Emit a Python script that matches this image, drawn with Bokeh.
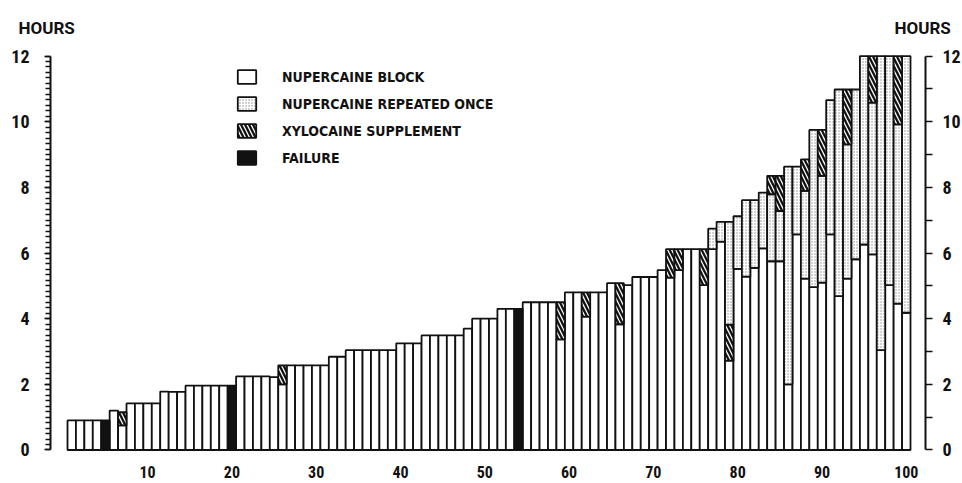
import numpy as np
from bokeh.plotting import figure
from bokeh.models import (LinearAxis, FixedTicker, Range1d, Legend, LegendItem,
                          Title, ColumnDataSource)
from bokeh.embed import file_html
from bokeh.resources import INLINE

# ---------------- data (hours per patient) ----------------
patients = list(range(1, 101))

# white part: Nupercaine block alone
nupercaine_block = [
    0.90, 0.90, 0.90, 0.90, 0.00, 1.20, 0.75, 1.42, 1.42, 1.42,
    1.42, 1.78, 1.77, 1.77, 1.96, 1.96, 1.96, 1.96, 1.96, 0.00,
    2.24, 2.24, 2.24, 2.24, 2.22, 2.00, 2.58, 2.58, 2.58, 2.58,
    2.58, 2.84, 2.84, 3.04, 3.04, 3.04, 3.04, 3.04, 3.04, 3.25,
    3.25, 3.25, 3.49, 3.49, 3.49, 3.49, 3.49, 3.70, 4.00, 4.00,
    4.00, 4.30, 4.30, 0.00, 4.50, 4.50, 4.50, 4.50, 3.37, 4.80,
    4.80, 4.06, 4.80, 4.80, 5.08, 3.83, 5.02, 5.27, 5.27, 5.27,
    5.48, 5.25, 5.48, 6.12, 6.12, 5.02, 6.12, 6.35, 2.72, 5.52,
    5.28, 5.55, 6.14, 5.75, 5.75, 2.00, 6.57, 5.22, 4.96, 5.10,
    6.57, 4.69, 5.22, 5.81, 6.26, 5.96, 3.04, 5.02, 4.46, 4.18,
]

# hatched: Xylocaine supplement given directly after the block {patient: hours}
xylocaine_after_block = {7: 0.40, 26: 0.58, 59: 1.13, 62: 0.74, 66: 1.25,
                         72: 0.87, 73: 0.64, 76: 1.10, 79: 1.10}

# dotted: Nupercaine repeated once {patient: hours}
nupercaine_repeated = {77: 0.62, 78: 0.60, 79: 3.13, 80: 1.60, 81: 2.33,
                       82: 2.06, 83: 1.70, 84: 2.04, 85: 1.53, 86: 6.63,
                       87: 2.06, 88: 2.67, 89: 4.79, 90: 3.25, 91: 4.09,
                       92: 6.29, 93: 4.09, 94: 5.17, 95: 5.74, 96: 4.62,
                       97: 8.96, 98: 6.98, 99: 5.46, 100: 7.82}

# hatched: Xylocaine supplement after the repeated Nupercaine {patient: hours}
xylocaine_after_repeat = {84: 0.56, 85: 1.07, 88: 0.96, 90: 1.40,
                          93: 1.67, 96: 1.42, 99: 2.08}

# black: failure {patient: hours}
failure = {5: 0.90, 20: 1.96, 54: 4.30}

y_ticks = [0, 2, 4, 6, 8, 10, 12]
x_ticks = [10, 20, 30, 40, 50, 60, 70, 80, 90, 100]

legend_labels = ["NUPERCAINE BLOCK", "NUPERCAINE REPEATED ONCE",
                 "XYLOCAINE SUPPLEMENT", "FAILURE"]
axis_title = "HOURS"

# ---------------- build ----------------
n = len(patients)
x = np.array(patients, dtype=float)


def full(d):
    a = np.zeros(n)
    for k, v in d.items():
        a[k - 1] = v
    return a


blk = np.array(nupercaine_block)
xa = full(xylocaine_after_block)
rep = full(nupercaine_repeated)
xb = full(xylocaine_after_repeat)
fl = full(failure)

t0 = blk
t1 = t0 + xa
t2 = t1 + rep
t3 = t2 + xb


def seg(bottom, top):
    m = (top - bottom) > 1e-9
    return ColumnDataSource(dict(x=x[m], bottom=bottom[m], top=top[m]))


TICK_FONT = "Roboto Condensed"
LEG_FONT = "DejaVu Sans Condensed"
TITLE_FONT = "Roboto"
INK = "#111111"

p = figure(frame_width=875, frame_height=409, output_backend="svg",
           toolbar_location=None, title=None,
           x_range=Range1d(-1.517, 102.28), y_range=Range1d(-0.198, 12.260),
           min_border_left=50, min_border_right=37, min_border_top=47,
           min_border_bottom=27, x_axis_location=None, y_axis_location=None)
p.outline_line_color = None
p.grid.visible = False
p.background_fill_color = "white"
p.border_fill_color = "white"

LW = 1.8
common = dict(width=1.0, line_color=INK, line_width=LW)
hatch_style = dict(fill_color=INK, hatch_pattern="left_diagonal_line",
                   hatch_color="white", hatch_weight=1.3, hatch_scale=8)

r_block = p.vbar(x="x", bottom="bottom", top="top", source=seg(np.zeros(n), t0),
                 fill_color="white", **common)
r_xa = p.vbar(x="x", bottom="bottom", top="top", source=seg(t0, t1),
              **hatch_style, **common)
r_rep = p.vbar(x="x", bottom="bottom", top="top", source=seg(t1, t2),
               fill_color="white", hatch_pattern="dot", hatch_color="#8f8f8f",
               hatch_weight=1.0, hatch_scale=3, **common)
r_xb = p.vbar(x="x", bottom="bottom", top="top", source=seg(t2, t3),
              **hatch_style, **common)
r_fail = p.vbar(x="x", bottom="bottom", top="top", source=seg(np.zeros(n), fl),
                fill_color=INK, **common)

# left axis
ly = LinearAxis(ticker=FixedTicker(ticks=y_ticks,
                                   minor_ticks=[i / 6 for i in range(73)]),
                bounds=(0, 12))
ly.axis_line_width = 2
ly.axis_line_color = INK
ly.major_tick_out = 6
ly.major_tick_in = 0
ly.minor_tick_out = 5
ly.minor_tick_in = 0
ly.major_tick_line_width = 1.6
ly.minor_tick_line_width = 1.3
ly.major_tick_line_color = INK
ly.minor_tick_line_color = INK
ly.major_label_text_font = TICK_FONT
ly.major_label_text_font_size = "18px"
ly.major_label_text_font_style = "bold"
ly.major_label_text_color = INK
ly.major_label_standoff = 15
p.add_layout(ly, "left")

# right axis
ry = LinearAxis(ticker=FixedTicker(ticks=y_ticks, minor_ticks=[1, 3, 5, 7, 9, 11]),
                bounds=(0, 12))
ry.axis_line_width = 2
ry.axis_line_color = INK
ry.major_tick_out = 7
ry.major_tick_in = 0
ry.minor_tick_out = 7
ry.minor_tick_in = 0
ry.major_tick_line_width = 1.6
ry.minor_tick_line_width = 1.6
ry.major_tick_line_color = INK
ry.minor_tick_line_color = INK
ry.major_label_text_font = TICK_FONT
ry.major_label_text_font_size = "18px"
ry.major_label_text_font_style = "bold"
ry.major_label_text_color = INK
ry.major_label_standoff = 10
p.add_layout(ry, "right")

# bottom axis (labels only)
bx = LinearAxis(ticker=FixedTicker(ticks=x_ticks, minor_ticks=[]))
bx.axis_line_color = None
bx.major_tick_line_color = None
bx.minor_tick_line_color = None
bx.major_tick_out = 0
bx.major_tick_in = 0
bx.major_label_text_font = TICK_FONT
bx.major_label_text_font_size = "16px"
bx.major_label_text_font_style = "bold"
bx.major_label_text_color = INK
bx.major_label_standoff = 9
p.add_layout(bx, "below")

# the two "HOURS" headings share one title line
gap = "\u00a0" * 194
p.add_layout(Title(text=axis_title + gap + axis_title, align="left", offset=-32,
                   standoff=20, text_font=TITLE_FONT, text_font_size="17px",
                   text_font_style="bold", text_color=INK), "above")

legend = Legend(items=[LegendItem(label=legend_labels[0], renderers=[r_block]),
                       LegendItem(label=legend_labels[1], renderers=[r_rep]),
                       LegendItem(label=legend_labels[2], renderers=[r_xb]),
                       LegendItem(label=legend_labels[3], renderers=[r_fail])],
                location=(185, 290), glyph_width=23, glyph_height=17,
                label_height=17, spacing=10, padding=0, margin=0,
                label_standoff=24, border_line_color=None,
                background_fill_alpha=0, label_text_font=LEG_FONT,
                label_text_font_size="14px", label_text_font_style="bold",
                label_text_color=INK)
p.add_layout(legend)

open("out.html", "w").write(file_html(p, INLINE))
